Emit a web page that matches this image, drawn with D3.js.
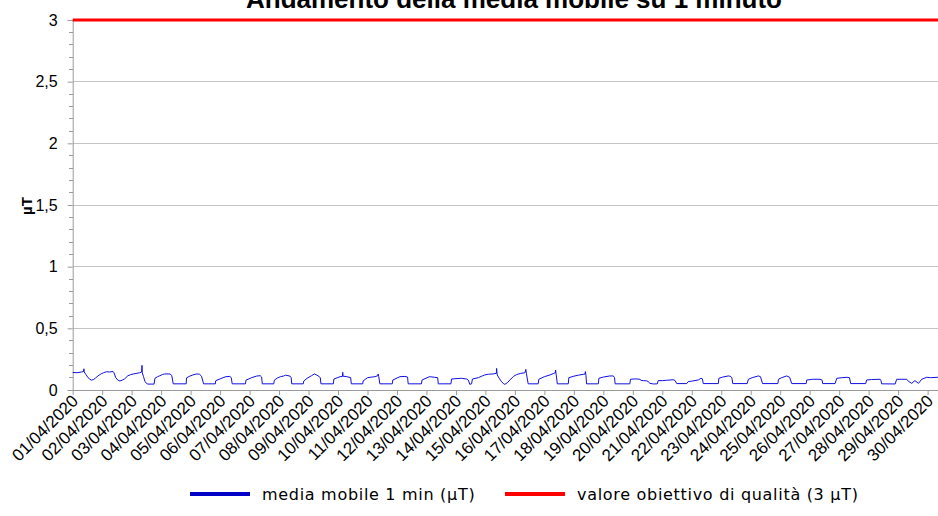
<!DOCTYPE html>
<html><head><meta charset="utf-8">
<script src="https://cdn.jsdelivr.net/npm/d3@7"></script>
<style>body{margin:0;background:#fff}svg{display:block}</style>
</head><body><svg id="c" width="938" height="516"></svg>
<script>
// ---- data ----
const chartTitle = "Andamento della media mobile su 1 minuto";
const yAxisTitle = "µT";
const seriesNames = ["media mobile 1 min (µT)", "valore obiettivo di qualità (3 µT)"];
const yTickValues = [0, 0.5, 1, 1.5, 2, 2.5, 3];
const objectiveValue = 3;
// time in days since 01/04/2020 00:00
const tDays = [
0.00,0.15,0.30,0.37,0.38,0.39,0.45,0.52,0.58,0.63,0.70,0.78,0.86,0.97,
1.05,1.14,1.25,1.37,1.40,1.46,1.53,1.60,1.68,1.76,1.87,1.96,
2.05,2.15,2.27,2.34,2.35,2.36,2.40,2.45,2.50,2.55,2.76,2.79,2.88,2.95,
3.05,3.12,3.30,3.36,3.41,3.85,3.86,3.95,
4.05,4.20,4.30,4.37,4.44,4.84,4.85,
5.00,5.10,5.20,5.33,5.38,5.41,5.86,5.88,
6.07,6.24,6.36,6.41,6.43,6.82,6.84,6.95,
7.05,7.15,7.22,7.37,7.41,7.43,7.82,7.84,7.95,
8.10,8.20,8.32,8.40,8.42,8.84,8.86,
9.07,9.15,9.16,9.17,9.30,9.43,9.45,9.84,9.85,
10.00,10.15,10.25,10.35,10.36,10.38,10.42,10.84,10.86,
11.10,11.27,11.36,11.38,11.83,11.85,
12.10,12.28,12.38,12.40,12.83,12.85,
13.00,13.19,13.36,13.42,13.47,13.53,13.56,13.76,13.90,13.98,
14.10,14.26,14.37,14.38,14.40,14.48,14.55,14.62,14.66,14.75,14.83,14.95,
15.06,15.20,15.34,15.37,15.39,15.45,15.79,15.81,
16.00,16.19,16.32,16.37,16.38,16.40,16.44,16.81,16.83,
17.00,17.15,17.32,17.38,17.39,17.41,17.43,17.83,17.85,
18.00,18.22,18.34,18.38,18.40,18.90,18.92,
19.10,19.24,19.28,19.36,19.47,19.52,19.58,19.70,19.83,19.86,
20.00,20.15,20.26,20.37,20.43,20.49,20.83,20.88,
21.00,21.22,21.31,21.36,21.39,21.90,21.92,
22.05,22.24,22.30,22.36,22.39,22.88,22.92,
23.05,23.26,23.33,23.40,23.92,23.94,
24.05,24.22,24.32,24.39,24.88,24.90,
25.10,25.35,25.42,25.44,25.86,25.92,
26.10,26.26,26.35,26.39,26.90,26.93,
27.10,27.39,27.42,27.44,27.90,27.95,
28.10,28.29,28.35,28.46,28.57,28.69,28.80,28.97,
29.10,29.35,29.45,29.50
];
const muT = [
.142,.140,.146,.150,.172,.146,.125,.100,.088,.080,.084,.098,.115,.132,
.140,.148,.146,.150,.140,.100,.080,.073,.080,.090,.115,.124,
.130,.134,.140,.146,.200,.140,.110,.070,.054,.048,.048,.095,.108,.115,
.126,.130,.130,.118,.050,.050,.098,.110,
.120,.130,.128,.112,.050,.050,.075,
.090,.100,.108,.110,.100,.050,.050,.080,
.100,.113,.116,.105,.050,.050,.080,.098,
.108,.113,.120,.113,.100,.050,.050,.073,.095,
.116,.130,.116,.100,.050,.050,.089,
.108,.110,.143,.112,.108,.100,.050,.050,.073,
.100,.105,.108,.116,.130,.110,.050,.050,.081,
.108,.110,.105,.050,.050,.081,
.108,.103,.100,.050,.050,.089,
.092,.095,.089,.080,.046,.050,.089,.100,.115,.122,
.128,.130,.135,.175,.122,.090,.067,.050,.046,.060,.081,.110,
.125,.135,.140,.167,.135,.050,.050,.087,
.108,.122,.135,.140,.162,.125,.050,.050,.100,
.112,.120,.127,.130,.149,.120,.050,.050,.095,
.105,.114,.114,.100,.050,.050,.087,
.090,.087,.078,.076,.074,.068,.054,.049,.050,.076,
.076,.079,.081,.083,.078,.052,.052,.068,
.072,.081,.095,.090,.052,.052,.095,
.105,.114,.112,.100,.052,.052,.087,
.100,.114,.108,.052,.052,.087,
.100,.114,.103,.052,.052,.081,
.087,.087,.080,.052,.052,.095,
.100,.103,.100,.052,.052,.081,
.085,.087,.075,.050,.049,.087,
.087,.087,.070,.054,.076,.054,.087,.103,
.100,.103,.100,.098
];

// ---- drawing ----
const svg = d3.select("#c");
const W = 938, H = 516;
const x0 = 72.7, dayW = 29.48;
const start = new Date(Date.UTC(2020, 3, 1));
const end = new Date(Date.UTC(2020, 4, 1));
const x = d3.scaleUtc().domain([start, end]).range([x0, x0 + 30 * dayW]);
const y = d3.scaleLinear().domain([0, 3]).range([390, 20]);
const toDate = t => new Date(start.getTime() + t * 86400000);
const loc = d3.formatLocale({decimal: ",", thousands: ".", grouping: [3], currency: ["€", ""]});
const fmtY = loc.format("~g");
const axisColor = "#9a9a9a";
const font = "'Liberation Sans', Arial, sans-serif";

svg.append("rect").attr("width", W).attr("height", H).attr("fill", "#fff");

// gridlines
svg.append("g").selectAll("line").data(yTickValues.filter(v => v > 0 && v < 3)).join("line")
  .attr("x1", x0).attr("x2", W).attr("y1", d => y(d)).attr("y2", d => y(d))
  .attr("stroke", "#c4c4c4").attr("stroke-width", 1).attr("shape-rendering", "crispEdges");

// minor ticks
const minor = d3.range(0, 30).map(i => i / 10).filter(v => Math.abs(v * 2 - Math.round(v * 2)) > 1e-6);
svg.append("g").selectAll("line").data(minor).join("line")
  .attr("x1", x0 - 4).attr("x2", x0).attr("y1", d => y(d)).attr("y2", d => y(d))
  .attr("stroke", axisColor).attr("shape-rendering", "crispEdges");

// y axis
const gy = svg.append("g").attr("transform", `translate(${x0},0)`)
  .call(d3.axisLeft(y).tickValues(yTickValues).tickFormat(fmtY).tickSize(5).tickPadding(10));
gy.select(".domain").attr("stroke", axisColor);
gy.selectAll(".tick line").attr("stroke", axisColor);
gy.selectAll(".tick text").attr("font-family", font).attr("font-size", 16).attr("fill", "#000");

// x axis
const days = d3.utcDays(start, end);
const gx = svg.append("g").attr("transform", "translate(0,390)")
  .call(d3.axisBottom(x).tickValues(days).tickFormat(d3.utcFormat("%d/%m/%Y")).tickSize(5).tickSizeOuter(0));
gx.select(".domain").attr("stroke", axisColor).attr("d", `M${x0},0.5H${W}`);
gx.selectAll(".tick line").attr("stroke", axisColor);
gx.selectAll(".tick text").attr("font-family", font).attr("font-size", 17).attr("fill", "#000")
  .attr("text-anchor", "end").attr("dy", 0).attr("y", 0)
  .attr("transform", "translate(6,12) rotate(-45)");

// series
const pts = tDays.map((t, i) => [toDate(t), muT[i]]);
svg.append("path").datum(pts)
  .attr("d", d3.line().x(d => x(d[0])).y(d => y(d[1])))
  .attr("fill", "none").attr("stroke", "#1010e0").attr("stroke-width", 1);

svg.append("path").datum([[start, objectiveValue], [end, objectiveValue]])
  .attr("d", d3.line().x(d => x(d[0])).y(d => y(d[1])))
  .attr("fill", "none").attr("stroke", "#ff0000").attr("stroke-width", 3);

// title
svg.append("text").attr("x", 514).attr("y", 8).attr("text-anchor", "middle")
  .attr("font-family", font).attr("font-weight", "bold").attr("font-size", 26).text(chartTitle);

// y title
svg.append("text").attr("transform", "translate(32,206) rotate(-90)").attr("text-anchor", "middle")
  .attr("font-family", font).attr("font-weight", "bold").attr("font-size", 15).text(yAxisTitle);

// legend
const legend = [
  {name: seriesNames[0], color: "#0000c8", lx: 190},
  {name: seriesNames[1], color: "#ff0000", lx: 505}
];
const lg = svg.append("g").selectAll("g").data(legend).join("g");
lg.append("line").attr("x1", d => d.lx).attr("x2", d => d.lx + 60).attr("y1", 494).attr("y2", 494)
  .attr("stroke", d => d.color).attr("stroke-width", 4);
lg.append("text").attr("x", d => d.lx + 72).attr("y", 494).attr("dy", "0.35em")
  .attr("font-family", "'DejaVu Sans', sans-serif").attr("font-size", 16).attr("letter-spacing", 0.7)
  .text(d => d.name);
</script></body></html>
